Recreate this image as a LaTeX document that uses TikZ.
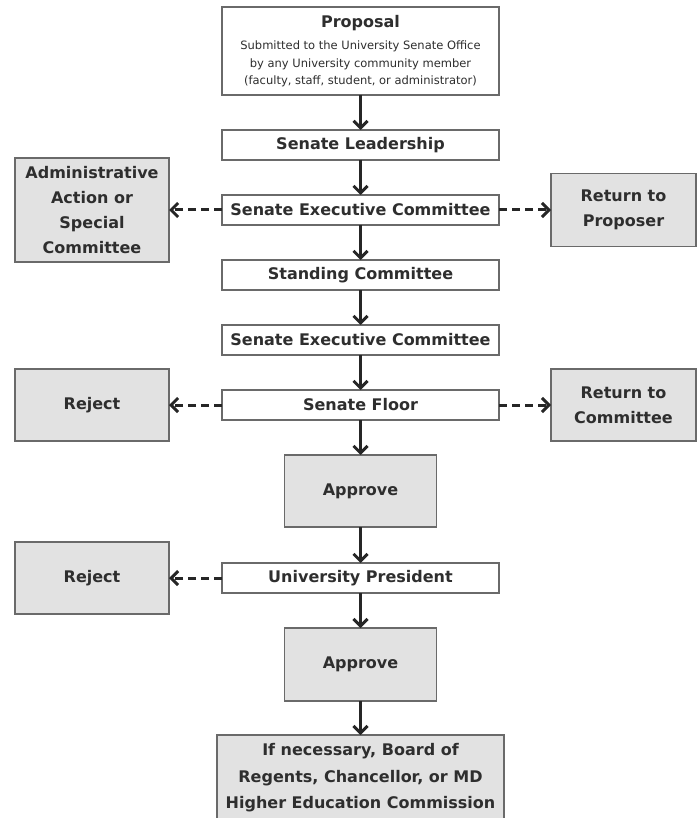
\documentclass[tikz,border=0pt]{standalone}
\usepackage{fontspec}
\setmainfont{DejaVu Sans}
\usetikzlibrary{positioning, arrows.meta}

\definecolor{boxgray}{HTML}{E2E2E2}
\definecolor{linegray}{HTML}{6A6A6A}
\definecolor{textgray}{HTML}{2E2E2E}

\begin{document}
\begin{tikzpicture}[
        x=1pt, y=1pt,
        node distance=35pt and 53pt,
        every node/.style={text=textgray, align=center, inner sep=2pt, outer sep=0pt},
        mainbox/.style={draw=linegray, line width=1.3pt, fill=white, minimum width=277pt, minimum height=30pt, font=\fontsize{16}{25}\selectfont\bfseries},
        greybox/.style={mainbox, fill=boxgray, minimum width=152pt, minimum height=72pt},
        sidebox/.style={greybox, minimum width=154pt},
        arrow/.style={-{Straight Barb[length=7pt,width=14pt,line width=3pt]}, line width=3.6pt, black!85},
        dasharrow/.style={arrow, line width=3pt, dash pattern=on 8pt off 5pt}
    ]
    \useasboundingbox (0,0) rectangle (696,-818);

    % Main column
    \node[mainbox, minimum height=88pt, font=\fontsize{11.5}{17.5}\selectfont] (proposal) at (360.5,-51)
        {{\fontsize{16}{18}\selectfont\bfseries Proposal}\\[5pt]
         Submitted to the University Senate Office\\
         by any University community member\\
         (faculty, staff, student, or administrator)};
    \node[mainbox, below=of proposal] (leadership) {Senate Leadership};
    \node[mainbox, below=of leadership] (exec1) {Senate Executive Committee};
    \node[mainbox, below=of exec1] (standing) {Standing Committee};
    \node[mainbox, below=of standing] (exec2) {Senate Executive Committee};
    \node[mainbox, below=of exec2] (floor) {Senate Floor};
    \node[greybox, below=of floor] (approve1) {Approve};
    \node[mainbox, below=36pt of approve1] (president) {University President};
    \node[greybox, below=of president, minimum height=73pt] (approve2) {Approve};
    \node[greybox, below=34pt of approve2, minimum width=287pt, minimum height=86pt, font=\fontsize{16}{26.5}\selectfont\bfseries] (regents)
        {If necessary, Board of\\Regents, Chancellor, or MD\\Higher Education Commission};

    % Side outcomes
    \node[sidebox, left=of exec1, minimum height=104pt] (admin) {Administrative\\Action or\\Special\\Committee};
    \node[sidebox, right=52pt of exec1, minimum width=145pt, minimum height=73pt] (returnprop) {Return to\\Proposer};
    \node[sidebox, left=of floor] (reject1) {Reject};
    \node[sidebox, right=52pt of floor, minimum width=145pt] (returncom) {Return to\\Committee};
    \node[sidebox, left=of president] (reject2) {Reject};

    % Flow down the column
    \draw[arrow] (proposal) -- (leadership);
    \draw[arrow] (leadership) -- (exec1);
    \draw[arrow] (exec1) -- (standing);
    \draw[arrow] (standing) -- (exec2);
    \draw[arrow] (exec2) -- (floor);
    \draw[arrow] (floor) -- (approve1);
    \draw[arrow] (approve1) -- (president);
    \draw[arrow] (president) -- (approve2);
    \draw[arrow] (approve2) -- (regents);

    % Dashed branches
    \draw[dasharrow] (exec1) -- (admin);
    \draw[dasharrow] (exec1) -- (returnprop);
    \draw[dasharrow] (floor) -- (reject1);
    \draw[dasharrow] (floor) -- (returncom);
    \draw[dasharrow] (president) -- (reject2);

\end{tikzpicture}
\end{document}
